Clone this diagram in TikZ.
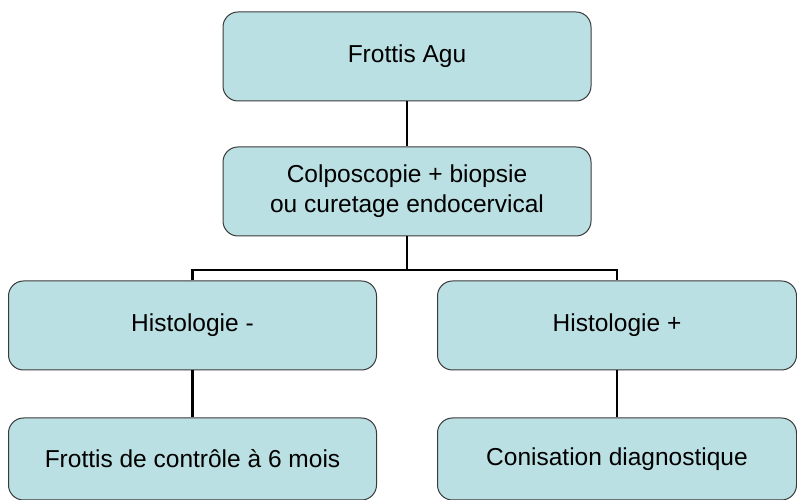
\documentclass[tikz,border=0pt]{standalone}
\usepackage{fontspec}
\setmainfont{Liberation Sans}
\usetikzlibrary{positioning}
\definecolor{boxfill}{HTML}{BBE0E3}
\definecolor{boxline}{HTML}{3A3A3A}

\begin{document}
\begin{tikzpicture}[x=1pt,y=1pt,node distance=46pt,
		thick,base node/.style={rectangle,rounded corners=15pt,draw=boxline,line width=1pt,fill=boxfill,
			minimum width=368pt,minimum height=89pt,align=center,font=\fontsize{24.5}{30}\selectfont},
		link/.style={line width=2.2pt,black}]
		\useasboundingbox (0,0) rectangle (797,500);
		% arbre de décision
		\node[base node] (op1) at (407,443.5) {Frottis Agu};
		\node[base node] (op2) [below=45pt of op1] {Colposcopie + biopsie\\ou curetage endocervical};
		\node[base node] (op3) at (192.5,174.5) {Histologie -};
		\node[base node, minimum width=359pt] (op4) [right=60pt of op3] {Histologie +};
		\node[base node, minimum height=82pt] (op5) [below=47pt of op3] {Frottis de contrôle à 6 mois};
		\node[base node, minimum width=359pt, minimum height=82pt] (op6) [below=47pt of op4] {Conisation diagnostique};
		\coordinate (bus) at (0,230);
		\draw[link] (op1) -- (op2);
		\draw[link] (op2.south) -- (op2.south |- bus);
		\draw[link] (op3.north) |- (op4.north |- bus) -- (op4.north);
		\draw[link] (op3) -- (op5);
		\draw[link] (op4) -- (op6);
\end{tikzpicture}
\end{document}
